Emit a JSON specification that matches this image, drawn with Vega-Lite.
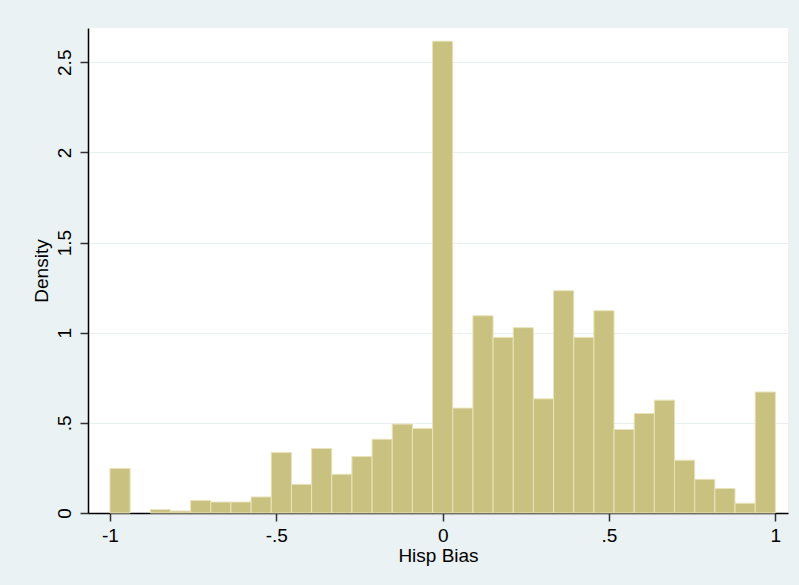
{
  "$schema": "https://vega.github.io/schema/vega-lite/v6.json",
  "width": 700,
  "height": 485,
  "autosize": "none",
  "padding": {"left": 88, "top": 28, "right": 11, "bottom": 72},
  "background": "#eaf2f3",
  "config": {
    "view": {"fill": "#ffffff", "stroke": null},
    "font": "Liberation Sans"
  },
  "data": {
    "values": [
      {"lo": -1, "hi": -0.93939, "d": 0.247},
      {"lo": -0.87879, "hi": -0.81818, "d": 0.019},
      {"lo": -0.81818, "hi": -0.75758, "d": 0.011},
      {"lo": -0.75758, "hi": -0.69697, "d": 0.069},
      {"lo": -0.69697, "hi": -0.63636, "d": 0.061},
      {"lo": -0.63636, "hi": -0.57576, "d": 0.061},
      {"lo": -0.57576, "hi": -0.51515, "d": 0.089},
      {"lo": -0.51515, "hi": -0.45455, "d": 0.335},
      {"lo": -0.45455, "hi": -0.39394, "d": 0.159},
      {"lo": -0.39394, "hi": -0.33333, "d": 0.358},
      {"lo": -0.33333, "hi": -0.27273, "d": 0.215},
      {"lo": -0.27273, "hi": -0.21212, "d": 0.313},
      {"lo": -0.21212, "hi": -0.15152, "d": 0.409},
      {"lo": -0.15152, "hi": -0.09091, "d": 0.493},
      {"lo": -0.09091, "hi": -0.0303, "d": 0.469},
      {"lo": -0.0303, "hi": 0.0303, "d": 2.617},
      {"lo": 0.0303, "hi": 0.09091, "d": 0.582},
      {"lo": 0.09091, "hi": 0.15152, "d": 1.094},
      {"lo": 0.15152, "hi": 0.21212, "d": 0.974},
      {"lo": 0.21212, "hi": 0.27273, "d": 1.028},
      {"lo": 0.27273, "hi": 0.33333, "d": 0.633},
      {"lo": 0.33333, "hi": 0.39394, "d": 1.233},
      {"lo": 0.39394, "hi": 0.45455, "d": 0.974},
      {"lo": 0.45455, "hi": 0.51515, "d": 1.122},
      {"lo": 0.51515, "hi": 0.57576, "d": 0.463},
      {"lo": 0.57576, "hi": 0.63636, "d": 0.552},
      {"lo": 0.63636, "hi": 0.69697, "d": 0.626},
      {"lo": 0.69697, "hi": 0.75758, "d": 0.293},
      {"lo": 0.75758, "hi": 0.81818, "d": 0.187},
      {"lo": 0.81818, "hi": 0.87879, "d": 0.136},
      {"lo": 0.87879, "hi": 0.93939, "d": 0.054},
      {"lo": 0.93939, "hi": 1, "d": 0.671}
    ]
  },
  "mark": {"type": "rect", "fill": "#c9c17f", "stroke": "#e8e3bb", "strokeWidth": 1},
  "encoding": {
    "x": {
      "field": "lo",
      "type": "quantitative",
      "scale": {"domain": [-1.066, 1.038], "nice": false, "zero": false},
      "axis": {
        "title": "Hisp Bias",
        "values": [-1, -0.5, 0, 0.5, 1],
        "labelExpr": "datum.value == -1 ? '-1' : datum.value == -0.5 ? '-.5' : datum.value == 0 ? '0' : datum.value == 0.5 ? '.5' : '1'",
        "grid": false,
        "domainColor": "#000000",
        "domainWidth": 1.5,
        "tickColor": "#333333",
        "tickSize": 8,
        "tickWidth": 1.5,
        "labelFontSize": 19,
        "labelColor": "#000000",
        "labelPadding": 5,
        "titleFontSize": 19,
        "titleFontWeight": "normal",
        "titleColor": "#000000",
        "titlePadding": 1
      }
    },
    "x2": {"field": "hi"},
    "y": {
      "field": "d",
      "type": "quantitative",
      "scale": {"domain": [0, 2.69], "nice": false},
      "axis": {
        "title": "Density",
        "values": [0, 0.5, 1, 1.5, 2, 2.5],
        "labelExpr": "datum.value == 0 ? '0' : datum.value == 0.5 ? '.5' : datum.value == 1 ? '1' : datum.value == 1.5 ? '1.5' : datum.value == 2 ? '2' : '2.5'",
        "labelAngle": -90,
        "labelAlign": "center",
        "labelBaseline": "bottom",
        "grid": true,
        "gridColor": "#e8f0f1",
        "gridWidth": 1,
        "domainColor": "#000000",
        "domainWidth": 1.5,
        "tickColor": "#333333",
        "tickSize": 8,
        "tickWidth": 1.5,
        "labelFontSize": 19,
        "labelColor": "#000000",
        "labelPadding": 6,
        "titleFontSize": 19,
        "titleFontWeight": "normal",
        "titleColor": "#000000",
        "titlePadding": 4
      }
    },
    "y2": {"datum": 0}
  }
}
